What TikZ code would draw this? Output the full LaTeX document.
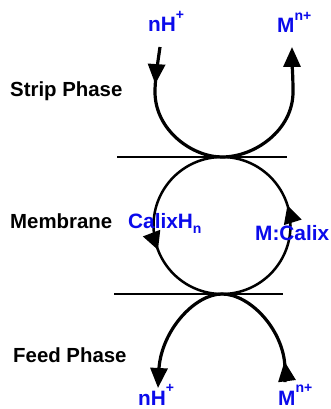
\documentclass[tikz,border=0pt]{standalone}
\usepackage{fontspec}
\setmainfont{Liberation Sans}
\usetikzlibrary{arrows.meta,decorations.markings}
\newcommand{\mysup}[1]{\raisebox{0.62em}{\fontsize{14}{14}\selectfont #1}}
\newcommand{\mysub}[1]{\raisebox{-0.28em}{\fontsize{14}{14}\selectfont #1}}
\tikzset{
  phase/.style={inner sep=0pt, anchor=base west, font=\fontsize{20.4}{24}\selectfont\bfseries, text=black},
  species/.style={inner sep=0pt, anchor=base west, font=\fontsize{20.8}{24}\selectfont\bfseries, text={rgb,255:red,10;green,10;blue,235}},
  wall/.style={line width=1.9pt, black},
  flow/.style={line width=3.2pt, black},
  ring/.style={line width=2.5pt, black},
  bigtip/.style={-{Triangle[length=20pt,width=17pt]}},
  midtip/.style={postaction={decorate}, decoration={markings, mark=at position #1 with {\arrow{Triangle[length=20pt,width=17pt]}}}},
  ringtip/.style={decoration={markings,
      mark=at position 0.048 with {\arrow{Triangle[length=18pt,width=18pt]}},
      mark=at position 0.558 with {\arrow{Triangle[length=18pt,width=18pt]}}}, postaction={decorate}}
}
\begin{document}
\begin{tikzpicture}[x=1pt,y=-1pt]
\useasboundingbox (0,0) rectangle (331,409);
\fill[white] (0,0) rectangle (331,409);

% membrane walls
\coordinate (tlw) at (117,157);
\coordinate (trw) at (287,157);
\coordinate (blw) at (114,294);
\coordinate (brw) at (283,294);
\draw[wall] (tlw) -- (trw);
\draw[wall] (blw) -- (brw);

% strip phase U
\coordinate (sa) at (160,47);
\coordinate (sb) at (155,92);
\coordinate (st) at (222,157);
\coordinate (sc) at (293,92);
\coordinate (sd) at (292,47);
\draw[flow, midtip=0.125, bigtip] (sa) .. controls (157,68) and (155,80) .. (sb)
   .. controls (155,130) and (192,157) .. (st)
   .. controls (255,157) and (293,130) .. (sc)
   .. controls (293,76) and (292,62) .. (sd);

% membrane ring
\coordinate (rc) at (222,225.5);
\draw[ring, ringtip] (rc) circle[radius=68.5pt];

% feed phase inverted U
\coordinate (fa) at (285,382);
\coordinate (fb) at (285,368);
\coordinate (ft) at (222,294);
\coordinate (fc) at (159,368);
\coordinate (fd) at (158,388);
\draw[flow, midtip=0.085, bigtip] (fa) -- (fb)
   .. controls (284,330) and (250,294) .. (ft)
   .. controls (195,294) and (162,330) .. (fc)
   -- (fd);

% phase labels
\node[phase] (strip) at (10,96.5) {Strip Phase};
\node[phase] (memb) at (10,228) {Membrane};
\node[phase] (feed) at (13,362) {Feed Phase};

% species labels
\node[species] (hs) at (148,32) {nH\mysup{+}};
\node[species] (ms) at (277,33) {M\mysup{n+}};
\node[species] (cal) at (128,228) {CalixH\mysub{n}};
\node[species] (mcal) at (255,240) {M:Calix};
\node[species] (hf) at (138,405) {nH\mysup{+}};
\node[species] (mf) at (278,405) {M\mysup{n+}};
\end{tikzpicture}
\end{document}
